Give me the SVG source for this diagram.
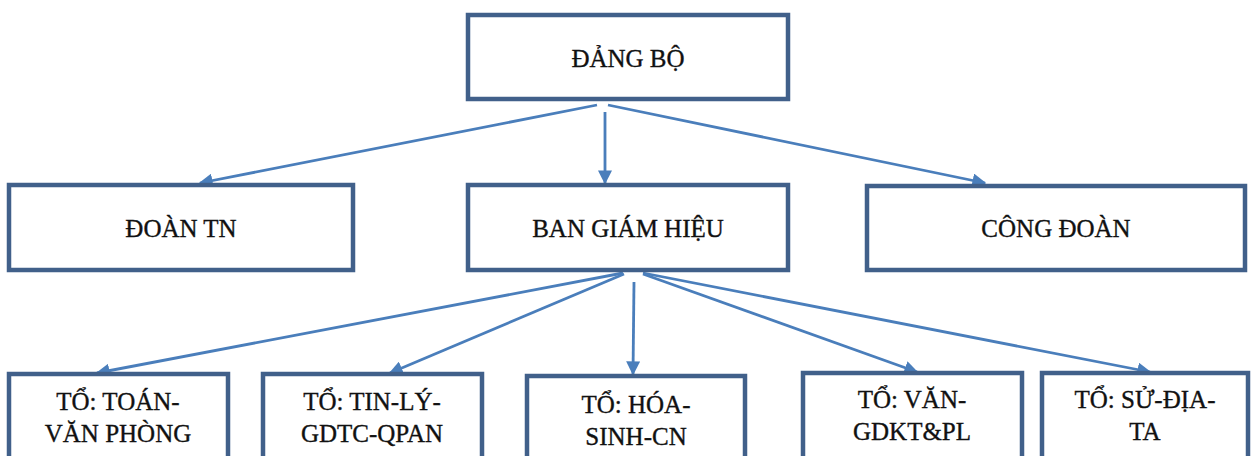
<svg xmlns="http://www.w3.org/2000/svg" width="1251" height="456" viewBox="0 0 1251 456">
<defs>
<style>
.box{fill:#ffffff;stroke:#41608A;stroke-width:4.5}
.lbl{font-family:"Liberation Serif","Times New Roman",serif;font-size:25px;fill:#111111;stroke:#111111;stroke-width:0.35;text-anchor:middle}
.conn{stroke:#4A7EBB;stroke-width:2.8;fill:none;marker-end:url(#ah)}
</style>
<marker id="ah" viewBox="0 0 10 10" refX="9" refY="5" markerWidth="5" markerHeight="5" orient="auto" markerUnits="strokeWidth">
<path d="M0,0 L10,5 L0,10 z" fill="#4A7EBB"/>
</marker>
</defs>
<rect width="1251" height="456" fill="#ffffff"/>
<g id="connectors">
<line class="conn" x1="597" y1="105" x2="200" y2="183"/>
<line class="conn" x1="605" y1="112" x2="605" y2="183"/>
<line class="conn" x1="608" y1="105" x2="985" y2="183"/>
<line class="conn" x1="623" y1="273" x2="97" y2="373"/>
<line class="conn" x1="624" y1="274" x2="390" y2="373"/>
<line class="conn" x1="634" y1="282" x2="633" y2="374"/>
<line class="conn" x1="643" y1="274" x2="917" y2="372"/>
<line class="conn" x1="643" y1="273" x2="1150" y2="372"/>
</g>
<g id="node-dang-bo">
<rect class="box" x="468" y="15" width="320" height="84"/>
<text class="lbl" x="628" y="67">ĐẢNG BỘ</text>
</g>
<g id="node-doan-tn">
<rect class="box" x="9" y="185" width="344" height="85"/>
<text class="lbl" x="181" y="237">ĐOÀN TN</text>
</g>
<g id="node-ban-giam-hieu">
<rect class="box" x="468" y="185" width="320" height="85"/>
<text class="lbl" x="628" y="237">BAN GIÁM HIỆU</text>
</g>
<g id="node-cong-doan">
<rect class="box" x="867" y="186" width="378" height="84"/>
<text class="lbl" x="1056" y="237">CÔNG ĐOÀN</text>
</g>
<g id="node-to-toan">
<rect class="box" x="9" y="374" width="219" height="86"/>
<text class="lbl" x="118" y="410">TỔ: TOÁN-</text>
<text class="lbl" x="118" y="442">VĂN PHÒNG</text>
</g>
<g id="node-to-tin">
<rect class="box" x="263" y="374" width="219" height="86"/>
<text class="lbl" x="372" y="410">TỔ: TIN-LÝ-</text>
<text class="lbl" x="372" y="442">GDTC-QPAN</text>
</g>
<g id="node-to-hoa">
<rect class="box" x="527" y="376" width="218" height="86"/>
<text class="lbl" x="636" y="413">TỔ: HÓA-</text>
<text class="lbl" x="636" y="445">SINH-CN</text>
</g>
<g id="node-to-van">
<rect class="box" x="803" y="373" width="219" height="86"/>
<text class="lbl" x="912" y="408">TỔ: VĂN-</text>
<text class="lbl" x="912" y="440">GDKT&amp;PL</text>
</g>
<g id="node-to-su">
<rect class="box" x="1042" y="373" width="206" height="86"/>
<text class="lbl" x="1145" y="408">TỔ: SỬ-ĐỊA-</text>
<text class="lbl" x="1145" y="440">TA</text>
</g>
</svg>
